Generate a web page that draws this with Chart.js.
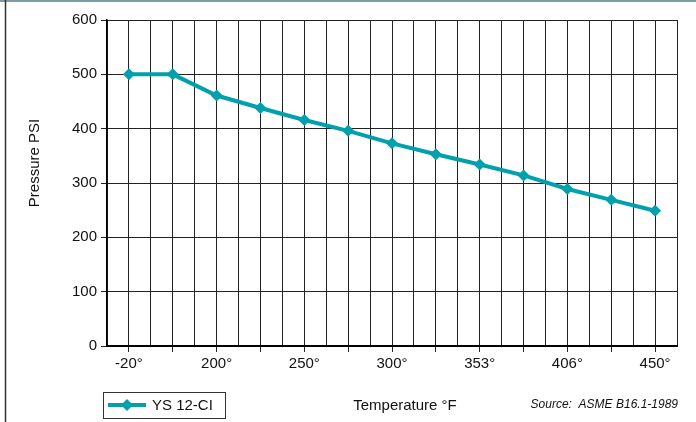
<!DOCTYPE html>
<html><head><meta charset="utf-8">
<script src="https://cdn.jsdelivr.net/npm/chart.js@4/dist/chart.umd.min.js"></script>
<style>html,body{margin:0;padding:0;background:#fff}#wrap{position:relative;width:696px;height:422px}</style>
</head><body><div id="wrap"><canvas id="c" width="696" height="422"></canvas></div>
<script>
const categories = ['-20°','150°','200°','225°','250°','275°','300°','325°','353°','375°','406°','425°','450°'];
const pressure = [500, 500, 461, 438, 416, 396, 373, 353, 334, 314, 289, 269, 249];
const yTicks = [0, 100, 200, 300, 400, 500, 600];
const seriesName = 'YS 12-CI';
const xTitle = 'Temperature °F';
const sourceText = 'Source:  ASME B16.1-1989';
const yTitle = 'Pressure PSI';

const TEAL = '#00a0ad';
const FONT = 'Liberation Sans, Arial, sans-serif';

const decor = {
  id: 'decor',
  beforeDraw(chart) {
    const ctx = chart.ctx;
    ctx.save();
    ctx.fillStyle = '#fff';
    ctx.fillRect(0, 0, chart.width, chart.height);
    ctx.restore();
  },
  afterDraw(chart) {
    const ctx = chart.ctx;
    const ds = chart.data.datasets[0];
    ctx.save();
    // frame lines
    ctx.strokeStyle = '#7b9ea6';
    ctx.lineWidth = 2;
    ctx.beginPath(); ctx.moveTo(0, 1); ctx.lineTo(chart.width, 1); ctx.stroke();
    ctx.strokeStyle = '#333';
    ctx.lineWidth = 1.5;
    ctx.beginPath(); ctx.moveTo(5.5, 0); ctx.lineTo(5.5, chart.height); ctx.stroke();
    // y title
    ctx.fillStyle = '#111';
    ctx.font = '15px ' + FONT;
    ctx.textAlign = 'center';
    ctx.textBaseline = 'middle';
    ctx.save();
    ctx.translate(35, 163);
    ctx.rotate(-Math.PI / 2);
    ctx.fillText(yTitle, 0, 0);
    ctx.restore();
    // legend box
    ctx.strokeStyle = '#333';
    ctx.lineWidth = 1;
    ctx.strokeRect(103.5, 392.5, 122, 26);
    ctx.strokeStyle = ds.borderColor;
    ctx.lineWidth = 4;
    ctx.beginPath(); ctx.moveTo(108, 405); ctx.lineTo(146, 405); ctx.stroke();
    ctx.fillStyle = ds.borderColor;
    ctx.beginPath(); ctx.moveTo(127, 399); ctx.lineTo(133, 405); ctx.lineTo(127, 411); ctx.lineTo(121, 405); ctx.closePath(); ctx.fill();
    ctx.fillStyle = '#111';
    ctx.font = '15px ' + FONT;
    ctx.textAlign = 'left';
    ctx.fillText(ds.label, 152, 406);
    // x title
    ctx.textAlign = 'center';
    ctx.fillText(xTitle, 405, 406);
    // source
    ctx.font = 'italic 12px ' + FONT;
    ctx.textAlign = 'right';
    ctx.fillText(sourceText, 678, 405);
    ctx.restore();
  }
};

new Chart(document.getElementById('c'), {
  type: 'line',
  data: {
    datasets: [{
      label: seriesName,
      data: pressure.map((v, i) => ({ x: i, y: v })),
      borderColor: TEAL,
      backgroundColor: TEAL,
      borderWidth: 4,
      pointStyle: 'rectRot',
      pointRadius: 6,
      pointHoverRadius: 6,
      pointBackgroundColor: TEAL,
      pointBorderColor: TEAL,
      pointBorderWidth: 0,
      tension: 0,
      fill: false
    }]
  },
  options: {
    responsive: false,
    animation: false,
    devicePixelRatio: 1,
    layout: { padding: { top: 20, right: 19, left: 0, bottom: 0 } },
    plugins: { legend: { display: false }, tooltip: { enabled: false } },
    scales: {
      x: {
        type: 'linear',
        min: -0.5,
        max: categories.length - 0.5,
        afterBuildTicks(scale) {
          const t = [];
          for (let v = -0.5; v <= categories.length - 0.5 + 1e-9; v += 0.5) t.push({ value: v });
          scale.ticks = t;
        },
        afterFit(scale) { scale.height = 76; },
        ticks: {
          autoSkip: false,
          maxRotation: 0,
          color: '#111',
          font: { family: FONT, size: 15 },
          padding: 3,
          callback(v) {
            if (Number.isInteger(v) && v % 2 === 0) return categories[v];
            return '';
          }
        },
        grid: {
          color: '#222',
          lineWidth: 1,
          tickLength: 6,
          tickColor(ctx) {
            const v = ctx.tick && ctx.tick.value;
            return Number.isInteger(v) ? '#222' : 'rgba(0,0,0,0)';
          }
        },
        border: { color: '#000', width: 2 }
      },
      y: {
        min: 0,
        max: 600,
        afterBuildTicks(scale) { scale.ticks = yTicks.map(v => ({ value: v })); },
        afterFit(scale) { scale.width = 107; },
        ticks: {
          color: '#111',
          font: { family: FONT, size: 15 },
          padding: 4
        },
        grid: { color: '#222', lineWidth: 1, tickLength: 6, tickColor: '#222' },
        border: { color: '#000', width: 1.5 }
      }
    }
  },
  plugins: [decor]
});
</script>
</body></html>
